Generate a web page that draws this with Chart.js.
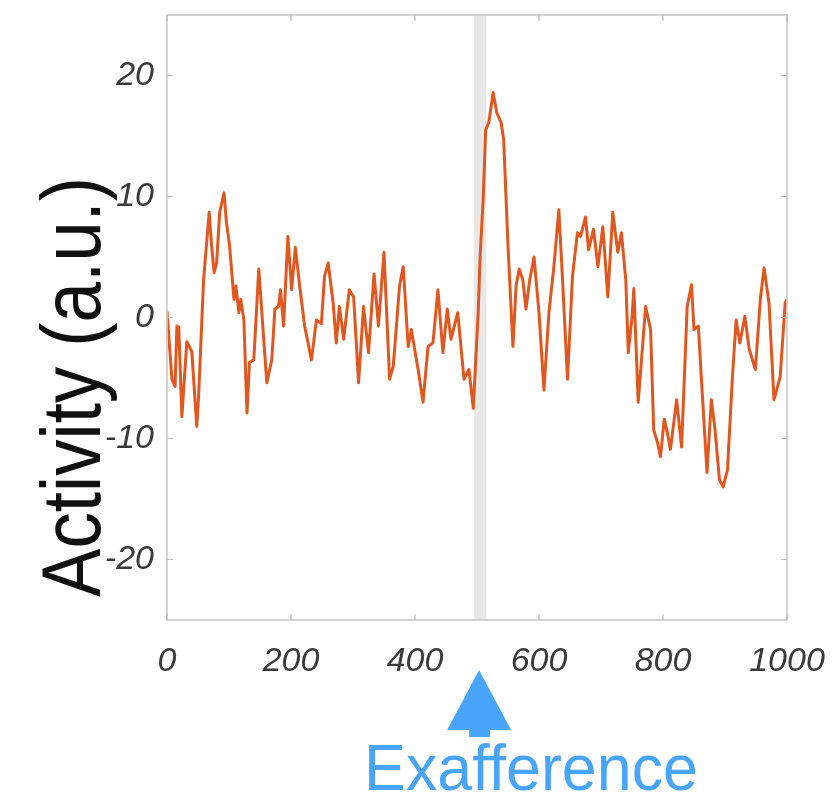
<!DOCTYPE html>
<html>
<head>
<meta charset="utf-8">
<script src="https://cdn.jsdelivr.net/npm/chart.js@4.4.1/dist/chart.umd.min.js"></script>
<style>
  html, body { margin: 0; padding: 0; background: #ffffff; }
  #wrap { width: 836px; height: 797px; }
</style>
</head>
<body>
<div id="wrap"><canvas id="c" width="836" height="797"></canvas></div>
<script>
const timeValues = [
  0, 8, 13, 16, 19, 24, 32, 40, 48, 51,
  59, 68, 72, 76, 80, 85, 92, 96, 101, 108,
  111, 116, 119, 124, 129, 133, 140, 148, 153, 161,
  169, 174, 180, 183, 188, 195, 201, 207, 214, 222,
  233, 241, 249, 254, 260, 268, 273, 278, 285, 294,
  301, 309, 317, 325, 334, 341, 350, 359, 365, 375,
  381, 389, 394, 405, 413, 421, 429, 437, 445, 452,
  458, 469, 479, 487, 494, 502, 505, 510, 514, 519,
  526, 532, 539, 543, 550, 558, 563, 568, 574, 579,
  585, 592, 600, 608, 616, 624, 632, 638, 646, 654,
  662, 667, 675, 680, 688, 695, 703, 711, 719, 727,
  733, 740, 744, 750, 753, 760, 772, 780, 785, 791,
  796, 802, 807, 812, 822, 830, 839, 846, 850, 857,
  863, 871, 878, 884, 891, 897, 904, 912, 918, 924,
  932, 939, 949, 957, 963, 971, 979, 989, 997, 1000
];
const activityValues = [
  0.5, -5.1, -5.7, -0.7, -0.8, -8.2, -2.0, -2.8, -9.0, -6.5,
  3.1, 8.7, 5.9, 3.7, 4.5, 8.7, 10.3, 7.8, 5.9, 1.5,
  2.6, 0.4, 1.5, -0.2, -7.9, -3.7, -3.5, 4.0, 0.4, -5.4,
  -3.5, 0.7, 0.9, 2.3, -0.7, 6.7, 2.3, 5.8, 2.6, -0.7,
  -3.5, -0.2, -0.5, 3.4, 4.5, 1.2, -2.1, 0.9, -1.8, 2.3,
  1.7, -5.4, 0.9, -2.9, 3.6, -0.7, 5.4, -5.1, -4.0, 2.6,
  4.2, -2.4, -1.0, -4.3, -7.0, -2.4, -2.1, 2.3, -2.9, 0.7,
  -1.8, 0.4, -5.1, -4.3, -7.5, 0.5, 5.0, 9.8, 15.5, 16.1,
  18.6, 16.9, 16.1, 14.7, 5.9, -2.4, 2.6, 4.0, 3.1, 0.7,
  3.1, 5.0, 0.4, -6.0, 0.4, 4.2, 8.9, 3.1, -5.1, 3.4,
  7.0, 6.7, 8.3, 5.6, 7.3, 4.2, 7.5, 1.7, 8.7, 5.4,
  7.0, 3.1, -2.9, 0.0, 2.4, -7.0, 0.9, -1.0, -9.3, -10.3,
  -11.5, -8.4, -9.5, -10.9, -6.8, -10.7, 0.9, 2.7, -1.0, -0.7,
  -6.0, -12.8, -6.8, -9.3, -13.4, -14.0, -12.6, -4.9, -0.2, -2.1,
  0.1, -2.6, -4.3, 1.5, 4.1, 1.2, -6.8, -4.9, 1.2, 1.5
];
const xTickValues = [0, 200, 400, 600, 800, 1000];
const yTickValues = [-20, -10, 0, 10, 20];
const xRange = [0, 1000];
const yRange = [-25, 25];
const stimulusWindow = [495, 515];
const yAxisTitle = 'Activity (a.u.)';
const arrowLabel = 'Exafference';

const decorations = {
  id: 'decorations',
  beforeDatasetsDraw(chart) {
    const { ctx, chartArea: a, scales: { x } } = chart;
    const x0 = x.getPixelForValue(stimulusWindow[0]);
    const x1 = x.getPixelForValue(stimulusWindow[1]);
    ctx.save();
    ctx.fillStyle = '#e8e8e8';
    ctx.fillRect(x0, a.top, x1 - x0, a.bottom - a.top);
    ctx.restore();
  },
  afterDatasetsDraw(chart) {
    const { ctx, chartArea: a, scales: { x, y } } = chart;
    ctx.save();
    ctx.strokeStyle = '#c8c8c8';
    ctx.lineWidth = 1.6;
    ctx.strokeRect(a.left, a.top, a.right - a.left, a.bottom - a.top);
    ctx.strokeStyle = '#bdbdbd';
    ctx.lineWidth = 1.2;
    ctx.beginPath();
    const tl = 6;
    xTickValues.forEach(v => {
      const px = x.getPixelForValue(v);
      ctx.moveTo(px, a.bottom); ctx.lineTo(px, a.bottom - tl);
      ctx.moveTo(px, a.top); ctx.lineTo(px, a.top + tl);
    });
    yTickValues.forEach(v => {
      const py = y.getPixelForValue(v);
      ctx.moveTo(a.left, py); ctx.lineTo(a.left + tl, py);
      ctx.moveTo(a.right, py); ctx.lineTo(a.right - tl, py);
    });
    ctx.stroke();
    ctx.restore();
  },
  afterDraw(chart) {
    const { ctx, scales: { x } } = chart;
    ctx.save();
    // y-axis title
    ctx.translate(100, 387);
    ctx.rotate(-Math.PI / 2);
    ctx.fillStyle = '#111111';
    ctx.font = '84px "Liberation Sans", Arial, sans-serif';
    ctx.textAlign = 'center';
    ctx.textBaseline = 'alphabetic';
    ctx.fillText(yAxisTitle, 0, 0, 420);
    ctx.restore();

    // arrow
    const cx = x.getPixelForValue((stimulusWindow[0] + stimulusWindow[1]) / 2) - 1;
    ctx.save();
    ctx.fillStyle = '#49a5fb';
    ctx.beginPath();
    ctx.moveTo(cx, 670);
    ctx.lineTo(cx + 32, 730);
    ctx.lineTo(cx - 32, 730);
    ctx.closePath();
    ctx.fill();
    ctx.fillRect(cx - 10, 729, 21, 8);
    // label
    ctx.font = '65px "Liberation Sans", Arial, sans-serif';
    ctx.textAlign = 'center';
    ctx.textBaseline = 'alphabetic';
    ctx.fillText(arrowLabel, 531, 790, 334);
    ctx.restore();
  }
};

const tickFont = { family: '"Liberation Sans", Arial, sans-serif', size: 34, style: 'italic' };

new Chart(document.getElementById('c'), {
  type: 'line',
  data: {
    datasets: [{
      data: timeValues.map((t, i) => ({ x: t, y: activityValues[i] })),
      borderColor: '#e0581f',
      borderWidth: 3,
      borderJoinStyle: 'round',
      pointRadius: 0,
      tension: 0,
      fill: false
    }]
  },
  options: {
    responsive: false,
    animation: false,
    layout: { padding: { top: 15, right: 49, left: 0, bottom: 0 } },
    plugins: { legend: { display: false }, tooltip: { enabled: false } },
    scales: {
      x: {
        type: 'linear',
        min: xRange[0], max: xRange[1],
        afterBuildTicks: s => { s.ticks = xTickValues.map(v => ({ value: v })); },
        afterFit: s => { s.height = 177; s.paddingLeft = 0; s.paddingRight = 0; },
        grid: { display: false },
        border: { display: false },
        ticks: { font: tickFont, color: '#3a3a3a', padding: 13, maxRotation: 0, autoSkip: false,
                 callback: v => String(v) }
      },
      y: {
        type: 'linear',
        min: yRange[0], max: yRange[1],
        afterBuildTicks: s => { s.ticks = yTickValues.map(v => ({ value: v })); },
        afterFit: s => { s.width = 167; s.paddingTop = 0; s.paddingBottom = 0; },
        grid: { display: false },
        border: { display: false },
        ticks: { font: tickFont, color: '#3a3a3a', padding: 5, autoSkip: false,
                 callback: v => String(v) }
      }
    }
  },
  plugins: [decorations]
});
</script>
</body>
</html>
